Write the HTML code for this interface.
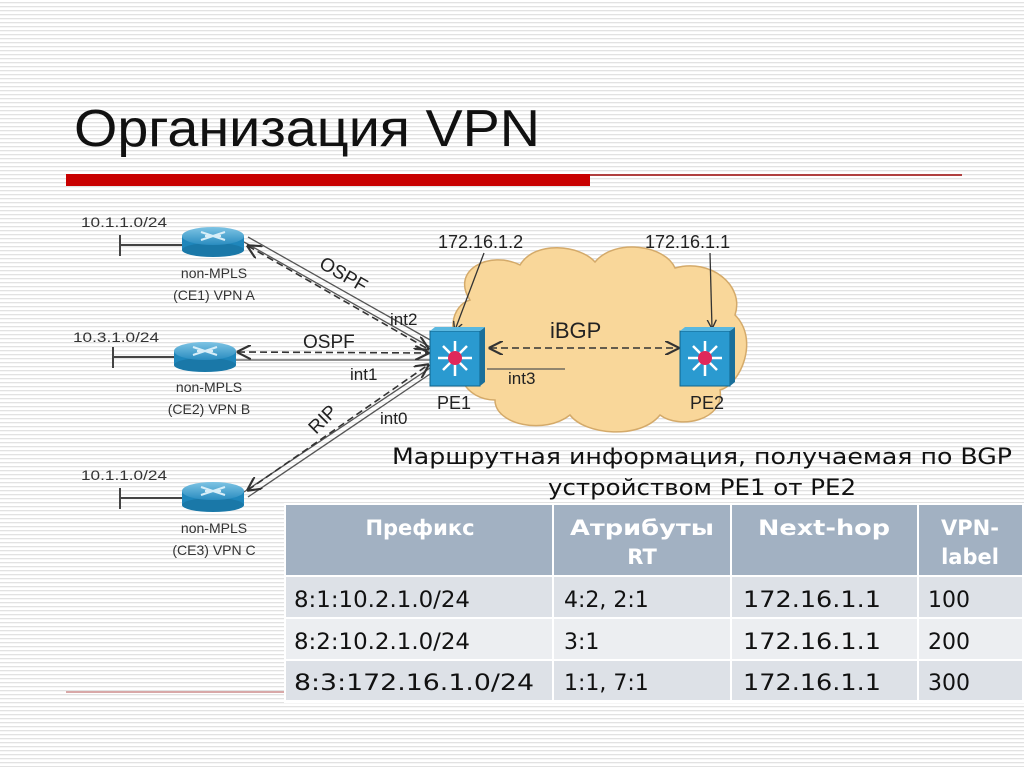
<!DOCTYPE html>
<html><head><meta charset="utf-8"><style>
html,body{margin:0;padding:0;width:1024px;height:767px;overflow:hidden;background:#fff}
svg{display:block}
text{font-family:"Liberation Sans",sans-serif}
text.dj{font-family:"DejaVu Sans",sans-serif}
</style></head><body>
<svg width="1024" height="767" viewBox="0 0 1024 767" xmlns="http://www.w3.org/2000/svg">
<defs>
<pattern id="st" width="4" height="4" patternUnits="userSpaceOnUse"><rect width="4" height="4" fill="#fff"/><rect y="2" width="4" height="1.3" fill="#e2e2e2"/></pattern>
<marker id="ah" viewBox="0 0 10 10" refX="9" refY="5" markerWidth="9" markerHeight="9" orient="auto-start-reverse"><path d="M0,0 L10,5 L0,10" fill="none" stroke="#333" stroke-width="1.5"/></marker>
<marker id="ah2" viewBox="0 0 10 10" refX="9" refY="5" markerWidth="7" markerHeight="9" orient="auto"><path d="M0,0 L10,5 L0,10" fill="none" stroke="#333" stroke-width="1.5"/></marker>
<linearGradient id="rt" x1="0" y1="0" x2="0" y2="1"><stop offset="0" stop-color="#7ec4e4"/><stop offset="1" stop-color="#2a8cc0"/></linearGradient>
<g id="router"><rect x="-31" y="-4" width="62" height="14" fill="#1f86bb"/><ellipse cx="0" cy="10" rx="31" ry="7" fill="#1a78a8"/><ellipse cx="0" cy="-4" rx="31" ry="9" fill="url(#rt)"/><path d="M-12,-8 L12,0 M-12,0 L12,-8 M-8,-4 L8,-4" stroke="#d8eef8" stroke-width="2"/></g>
<g id="sw"><rect x="0" y="0" width="50" height="55" fill="#2a9ad0" stroke="#10648c"/><path d="M50,0 L55,-4 L55,51 L50,55Z" fill="#1a6f9a"/><path d="M0,0 L5,-4 L55,-4 L50,0Z" fill="#5ab8e0"/><g stroke="#fff" stroke-width="2.5"><path d="M25,10 V45 M8,27 H42 M13,15 L37,39 M37,15 L13,39"/></g><circle cx="25" cy="27" r="7" fill="#e0285a"/></g>
</defs>
<rect width="1024" height="767" fill="url(#st)"/>
<text x="74" y="146" font-size="52" fill="#111" textLength="466" lengthAdjust="spacingAndGlyphs">Организация VPN</text>
<rect x="66" y="174" width="524" height="12" fill="#c80000"/>
<rect x="590" y="174" width="372" height="2" fill="#b04040"/>
<rect x="66" y="691" width="220" height="2" fill="#d8a8a8"/>

<path d="M470,300 C450,270 490,250 520,265 C535,240 580,245 595,262 C615,238 665,245 675,268 C710,258 745,285 735,315 C760,340 740,385 720,390 C725,420 680,430 660,415 C640,440 585,435 570,415 C545,435 495,425 495,400 C465,400 450,370 465,350 C445,335 452,305 470,300Z" fill="#f9d79a" stroke="#d4aa6a" stroke-width="1.5"/>

<g stroke="#444" stroke-width="2"><path d="M120,245 H185 M120,235 V256"/><path d="M113,357 H176 M113,347 V368"/><path d="M120,498 H185 M120,488 V509"/></g>

<g stroke="#555" stroke-width="1.3" fill="none">
<path d="M244,242 L430,347"/><path d="M248,237 L432,341"/>
<path d="M236,360 L430,360"/>
<path d="M244,492 L430,368"/><path d="M248,497 L433,372"/>
<path d="M487,369 H565"/>
</g>
<g stroke="#333" stroke-width="1.6" fill="none" stroke-dasharray="7,4">
<path d="M248,246 L428,349" marker-start="url(#ah)" marker-end="url(#ah)"/>
<path d="M238,352 L428,353" marker-start="url(#ah)" marker-end="url(#ah)"/>
<path d="M248,490 L428,365" marker-start="url(#ah)" marker-end="url(#ah)"/>
<path d="M490,348 L678,348" marker-start="url(#ah)" marker-end="url(#ah)"/>
</g>
<g stroke="#333" stroke-width="1.3" fill="none">
<path d="M484,253 L455,330" marker-end="url(#ah2)"/>
<path d="M710,253 L712,328" marker-end="url(#ah2)"/>
</g>

<use href="#router" x="213" y="240"/>
<use href="#router" x="205" y="355"/>
<use href="#router" x="213" y="495"/>
<use href="#sw" x="430" y="331"/>
<use href="#sw" x="680" y="331"/>

<g font-size="14" fill="#333" text-anchor="middle">
<text x="124" y="227" textLength="86" lengthAdjust="spacingAndGlyphs">10.1.1.0/24</text>
<text x="116" y="342" textLength="86" lengthAdjust="spacingAndGlyphs">10.3.1.0/24</text>
<text x="124" y="480" textLength="86" lengthAdjust="spacingAndGlyphs">10.1.1.0/24</text>
<text x="214" y="278">non-MPLS</text><text x="214" y="300">(CE1) VPN A</text>
<text x="209" y="392">non-MPLS</text><text x="209" y="414">(CE2) VPN B</text>
<text x="214" y="533">non-MPLS</text><text x="214" y="555">(CE3) VPN C</text>
</g>
<g font-size="18" fill="#222">
<text x="438" y="248">172.16.1.2</text>
<text x="645" y="248">172.16.1.1</text>
<text x="0" y="0" transform="translate(318,267) rotate(30)" font-size="19">OSPF</text>
<text x="390" y="325" font-size="17">int2</text>
<text x="303" y="348" font-size="19">OSPF</text>
<text x="350" y="380" font-size="17">int1</text>
<text x="0" y="0" transform="translate(316,435) rotate(-45)" font-size="19">RIP</text>
<text x="380" y="424" font-size="17">int0</text>
<text x="550" y="338" font-size="22">iBGP</text>
<text x="508" y="384" font-size="17">int3</text>
<text x="437" y="409" font-size="18">PE1</text>
<text x="690" y="409" font-size="18">PE2</text>
</g>

<g font-size="22" fill="#111">
<text class="dj" x="392" y="464" textLength="620" lengthAdjust="spacingAndGlyphs">Маршрутная информация, получаемая по BGP</text>
<text class="dj" x="548" y="495" textLength="308" lengthAdjust="spacingAndGlyphs">устройством PE1 от PE2</text>
</g>

<rect x="284" y="503" width="740" height="200" fill="#fff"/>
<rect x="286" y="505" width="736" height="70" fill="#a2b1c2"/>
<rect x="286" y="577" width="736" height="40" fill="#dde1e7"/>
<rect x="286" y="619" width="736" height="40" fill="#eceef1"/>
<rect x="286" y="661" width="736" height="39" fill="#dde1e7"/>
<g fill="#fff"><rect x="552" y="505" width="2" height="195"/><rect x="730" y="505" width="2" height="195"/><rect x="917" y="505" width="2" height="195"/></g>
<g font-size="21" fill="#fff" font-weight="bold" text-anchor="middle">
<text class="dj" x="420" y="535">Префикс</text>
<text class="dj" x="642" y="535" textLength="144" lengthAdjust="spacingAndGlyphs">Атрибуты</text><text class="dj" x="642" y="564">RT</text>
<text class="dj" x="824" y="535" textLength="132" lengthAdjust="spacingAndGlyphs">Next-hop</text>
<text class="dj" x="970" y="535">VPN-</text><text class="dj" x="970" y="564">label</text>
</g>
<g font-size="22" fill="#111">
<text class="dj" x="294" y="607" textLength="176" lengthAdjust="spacingAndGlyphs">8:1:10.2.1.0/24</text>
<text class="dj" x="564" y="607">4:2, 2:1</text><text class="dj" x="743" y="607" textLength="138" lengthAdjust="spacingAndGlyphs">172.16.1.1</text><text class="dj" x="928" y="607">100</text>
<text class="dj" x="294" y="649" textLength="176" lengthAdjust="spacingAndGlyphs">8:2:10.2.1.0/24</text>
<text class="dj" x="564" y="649">3:1</text><text class="dj" x="743" y="649" textLength="138" lengthAdjust="spacingAndGlyphs">172.16.1.1</text><text class="dj" x="928" y="649">200</text>
<text class="dj" x="294" y="690" textLength="240" lengthAdjust="spacingAndGlyphs">8:3:172.16.1.0/24</text>
<text class="dj" x="564" y="690">1:1, 7:1</text><text class="dj" x="743" y="690" textLength="138" lengthAdjust="spacingAndGlyphs">172.16.1.1</text><text class="dj" x="928" y="690">300</text>
</g>
</svg>
</body></html>
